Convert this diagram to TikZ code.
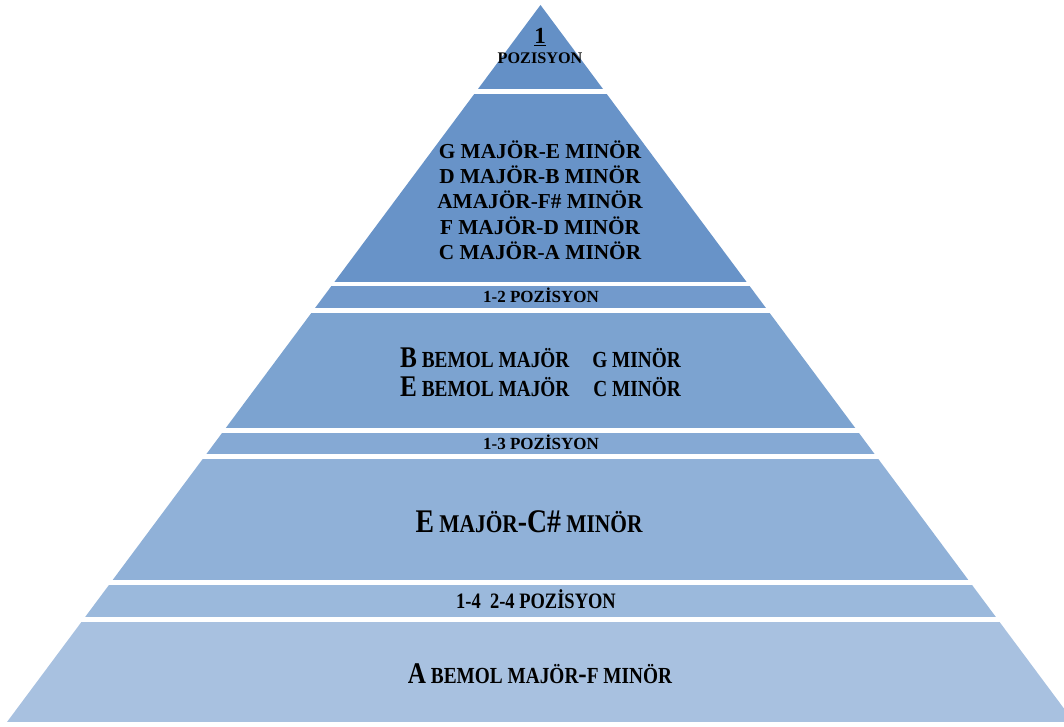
\documentclass[tikz,border=0pt]{standalone}
\usepackage{fontspec}
\setmainfont{Liberation Serif}
\newfontfamily\condf[FakeStretch=0.84]{Liberation Serif}
\definecolor{lvA}{HTML}{6490C6}
\definecolor{lvB}{HTML}{6893C8}
\definecolor{lvC}{HTML}{729ACC}
\definecolor{lvD}{HTML}{7CA3D0}
\definecolor{lvE}{HTML}{85A9D4}
\definecolor{lvF}{HTML}{90B1D8}
\definecolor{lvG}{HTML}{9BB9DC}
\definecolor{lvH}{HTML}{A8C1E0}
\newcommand\pyrBig[1]{{\fontsize{30}{30}\selectfont #1}}
\newcommand\pyrSm[1]{{\fontsize{23}{23}\selectfont #1}}
\newcommand\pyrBigL[1]{{\fontsize{33}{33}\selectfont #1}}
\newcommand\pyrSmL[1]{{\fontsize{25.5}{26}\selectfont #1}}
\begin{document}
\begin{tikzpicture}[x=1pt,y=-1pt,
  lbl/.style={inner sep=0pt, anchor=base, text=black, font=\bfseries}]
\useasboundingbox (0,0) rectangle (1064,727);
\begin{scope}
  \clip (0,0) rectangle (1064,727);
  \clip (540.5,5) -- (1074,722) -- (7,722) -- cycle;
  \fill[lvA] (0,0)   rectangle (1064,89);
  \fill[lvB] (0,94)  rectangle (1064,282);
  \fill[lvC] (0,286) rectangle (1064,308);
  \fill[lvD] (0,313) rectangle (1064,428);
  \fill[lvE] (0,433) rectangle (1064,454);
  \fill[lvF] (0,459) rectangle (1064,580);
  \fill[lvG] (0,585) rectangle (1064,617);
  \fill[lvH] (0,622) rectangle (1064,722);
\end{scope}
% level 1
\node[lbl, font=\bfseries\fontsize{23}{23}\selectfont] (t1a) at (540,44) {\underline{1}};
\node[lbl, font=\bfseries\fontsize{16.2}{17}\selectfont] (t1b) at (540,64) {POZISYON};
% level 2
\node[lbl, font=\bfseries\fontsize{21.3}{25}\selectfont] (t2a) at (540,159) {G MAJÖR-E MINÖR};
\node[lbl, font=\bfseries\fontsize{21.3}{25}\selectfont] (t2b) at (540,184) {D MAJÖR-B MINÖR};
\node[lbl, font=\bfseries\fontsize{21.3}{25}\selectfont] (t2c) at (540,209) {AMAJÖR-F\# MINÖR};
\node[lbl, font=\bfseries\fontsize{21.3}{25}\selectfont] (t2d) at (540,234) {F MAJÖR-D MINÖR};
\node[lbl, font=\bfseries\fontsize{21.3}{25}\selectfont] (t2e) at (540,259) {C MAJÖR-A MINÖR};
% level 3
\node[lbl, font=\bfseries\fontsize{17}{17}\selectfont] (t3) at (541,302) {1-2 POZİSYON};
% level 4
\node[lbl, anchor=base west, font=\condf\bfseries] (t4a) at (400,367) {\pyrBig{B}\pyrSm{ BEMOL MAJÖR}};
\node[lbl, anchor=base east, font=\condf\bfseries] (t4b) at (681,367) {\pyrSm{G MINÖR}};
\node[lbl, anchor=base west, font=\condf\bfseries] (t4c) at (400,396) {\pyrBig{E}\pyrSm{ BEMOL MAJÖR}};
\node[lbl, anchor=base east, font=\condf\bfseries] (t4d) at (681,396) {\pyrSm{C MINÖR}};
% level 5
\node[lbl, font=\bfseries\fontsize{17}{17}\selectfont] (t5) at (541,449) {1-3 POZİSYON};
% level 6
\node[lbl, font=\condf\bfseries] (t6) at (529,532) {\pyrBigL{E}\pyrSmL{ MAJÖR}\pyrBigL{-C\#}\pyrSmL{ MINÖR}};
% level 7
\node[lbl, font=\condf\bfseries\fontsize{22}{22}\selectfont] (t7) at (536,608) {1-4\ \ 2-4 POZİSYON};
% level 8
\node[lbl, font=\condf\bfseries] (t8) at (540,683) {\pyrBig{A}\pyrSm{ BEMOL MAJÖR}\pyrBig{-}\pyrSm{F MINÖR}};
\end{tikzpicture}
\end{document}
